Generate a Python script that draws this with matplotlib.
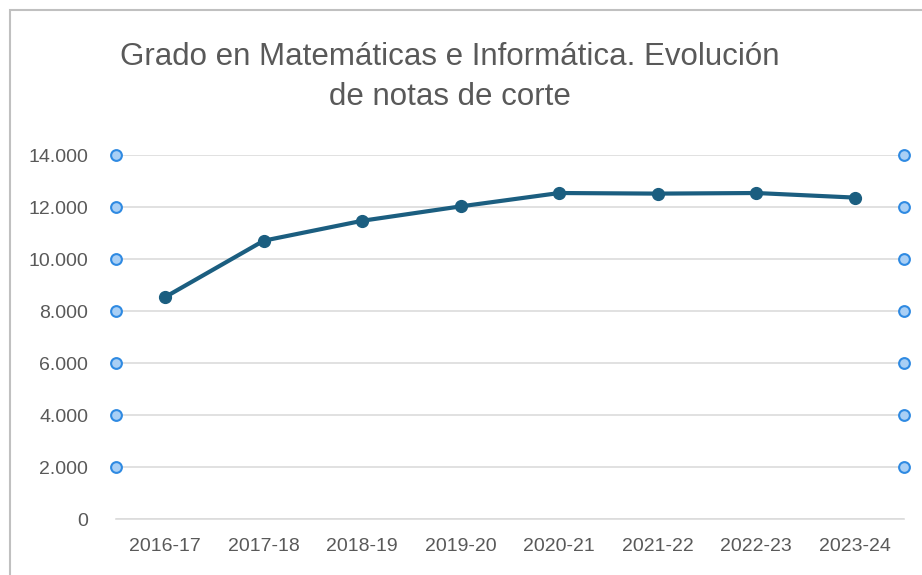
import matplotlib
matplotlib.use("Agg")
import matplotlib.pyplot as plt
from matplotlib.patches import Rectangle
from matplotlib.ticker import FuncFormatter

courses = ["2016-17", "2017-18", "2018-19", "2019-20", "2020-21", "2021-22", "2022-23", "2023-24"]
notas = [8.538, 10.704, 11.470, 12.024, 12.538, 12.515, 12.538, 12.362]
y_ticks = [0, 2, 4, 6, 8, 10, 12, 14]
handle_levels = [2, 4, 6, 8, 10, 12, 14]

title = "Grado en Matemáticas e Informática. Evolución\nde notas de corte"

FONT = ["Liberation Sans Narrow", "Liberation Sans", "DejaVu Sans"]
plt.rcParams["font.family"] = FONT

W, H = 922, 575
fig = plt.figure(figsize=(W / 100, H / 100), dpi=100)

# chart border (only top and left edges visible in the crop)
fig.patches.append(Rectangle((10 / W, -0.05), 1.2, 1 - 10 / H + 0.05, transform=fig.transFigure,
                             fill=False, edgecolor="#c0c0c0", linewidth=1.5))

ax = fig.add_axes([116 / W, 1 - 519 / H, (904 - 116) / W, (519 - 155) / H])
x = list(range(len(courses)))

ax.set_xlim(-0.5, len(courses) - 0.5)
ax.set_ylim(0, 14)
ax.set_yticks(y_ticks)
ax.yaxis.set_major_formatter(FuncFormatter(lambda v, _: "0" if v == 0 else f"{v:.3f}"))
ax.set_xticks(x)
ax.set_xticklabels(courses)
ax.grid(axis="y", color="#dcdcdc", linewidth=1.2)
ax.set_axisbelow(True)
for side in ["top", "right", "left"]:
    ax.spines[side].set_visible(False)
ax.spines["bottom"].set_color("#dcdcdc")
ax.spines["bottom"].set_linewidth(1.2)
ax.tick_params(axis="both", length=0, labelsize=14, labelcolor="#595959")
ax.tick_params(axis="y", pad=20)
ax.tick_params(axis="x", pad=14)

ax.plot(x, notas, color="#1b5e80", linewidth=3, marker="o", markersize=8.5,
        solid_capstyle="round", zorder=3)

# plot-area selection handles
for xe in (-0.5, len(courses) - 0.5):
    ax.scatter([xe] * len(handle_levels), handle_levels, s=60, facecolor="#a9cff5",
               edgecolor="#2f8ae2", linewidth=1.5, zorder=4, clip_on=False)

fig.text(450 / W, 1 - 77 / H, title, ha="center", va="center", fontsize=22.5,
         color="#595959", linespacing=1.4)

fig.savefig("out.png", dpi=100, facecolor="white")
